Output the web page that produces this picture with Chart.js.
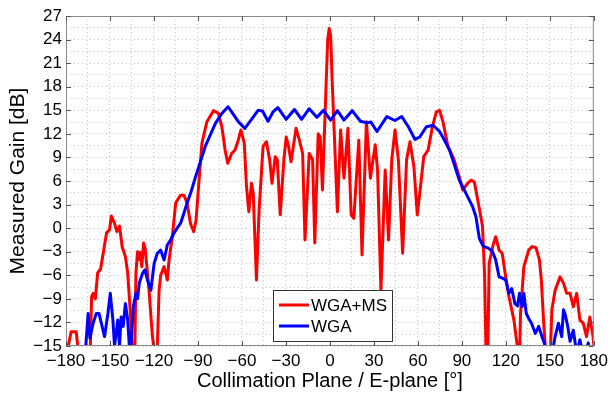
<!DOCTYPE html>
<html>
<head>
<meta charset="utf-8">
<script src="https://cdn.jsdelivr.net/npm/chart.js@4.4.0/dist/chart.umd.min.js"></script>
<style>
  html, body { margin: 0; padding: 0; background: #fff; }
  #wrap { width: 613px; height: 395px; }
</style>
</head>
<body>
<div id="wrap"><canvas id="gainChart" width="613" height="395"></canvas></div>
<script>
// angles in degrees, gain in dB (values below -15 run off the bottom of the plot)
const seriesNames = ['WGA+MS', 'WGA'];
const seriesColors = ['#ff0000', '#0000ff'];

const msAngle = [
  -180, -178.5, -176.5, -173, -172, -171, -164, -163, -162.5, -161.5,
  -160, -158.4, -156.4, -153.7, -152.3, -150.3, -149.1, -146.9, -145.3, -143.5,
  -141.7, -139.5, -137.9, -136.1, -135, -134, -133, -132.3, -131.2, -130.3,
  -129.4, -128.3, -127.1, -126, -124.4, -123.2, -121.9, -121, -120.3, -119.5,
  -118.5, -117.7, -116.5, -115.4, -113.1, -110.9, -109.7, -107.5, -105.2, -101.9,
  -99.6, -97.4, -95.1, -92.9, -91.3, -89.5, -87.3, -83.9, -79.4, -76,
  -73.7, -71.5, -69.7, -67, -64.7, -62.5, -60.7, -58.4, -56.9, -55.3,
  -53.5, -52.3, -50.1, -48.3, -45.6, -43.3, -41.1, -39.5, -37.3, -35.9,
  -33.9, -31.4, -29.8, -28.2, -26.5, -23.1, -20.8, -18.6, -17, -14.1,
  -11.8, -10.3, -8, -6.6, -5.1, -2.8, -1.5, -0.5, 0.5, 1.5,
  2.8, 5.1, 7.3, 9.6, 12.3, 14.5, 16.3, 19.7, 21.9, 24.9,
  27.6, 30.9, 32.5, 34.8, 37.7, 40, 42.2, 44.4, 46.7, 49.6,
  52.3, 54.6, 57.3, 59.6, 61.8, 64, 67, 69.9, 72.6, 74.8,
  77.1, 80.5, 84.5, 88.3, 90.6, 93.5, 96.2, 98.5, 101.9, 104.1,
  105.5, 106.4, 107.2, 107.8, 108.6, 111.3, 113.1, 115.4, 117.5, 119.9,
  122.1, 125.5, 127.8, 129, 130, 132.3, 135.6, 137.9, 140.6, 142.9,
  144.2, 145.7, 146.9, 147.8, 150, 150.7, 151.4, 153.6, 157, 159.3,
  161.5, 163.8, 166, 168.3, 170.5, 172.8, 175, 177.3, 179.5, 180
];
const msGain = [
  -15.5, -15, -13.2, -13.2, -15, -20, -20, -12, -8.7, -8.3,
  -9, -5.7, -5.2, -2.15, -0.6, -0.2, 1.55, 0.6, -0.45, 0.27,
  -2.36, -3.6, -5.75, -10.8, -15, -20, -15, -5.7, -3.0, -4.0,
  -3.1, -4.9, -1.9, -2.6, -5.75, -8.3, -11.7, -13.8, -15, -20,
  -20, -15, -7.9, -6.0, -4.9, -6.6, -4.05, -1.1, 3.2, 4.2,
  4.2, 3.2, 0.6, -0.45, 1.0, 5.5, 10.8, 13.55, 14.95, 14.6,
  12.9, 9.95, 8.25, 9.5, 9.95, 11.2, 12.5, 10.8, 5.3, 2.1,
  5.7, 4.4, -6.6, 2.3, 10.4, 11.0, 8.7, 5.7, 9.1, 8.7,
  1.7, 8.7, 11.6, 10.4, 8.45, 12.7, 11.2, 9.5, -1.5, 9.5,
  8.7, -1.9, 12.0, 11.6, 4.85, 17.2, 24, 25.4, 24.5, 19,
  12.9, 2.1, 12.5, 6.35, 12.7, 1.7, 1.25, 11.2, -3.4, 13.55,
  6.35, 10.6, 7.4, -7.9, 7.4, -1.5, 8.7, 12.5, 8.7, -3.2,
  8.7, 11.0, 7.8, 1.7, 5.3, 9.1, 9.95, 12.9, 14.8, 15.0,
  13.55, 10.4, 8.8, 6.5, 4.85, 5.6, 6.1, 5.9, 2.5, 0.2,
  -6, -15, -20, -15, -4.5, -2.15, -1.1, -2.8, -3.2, -6.2,
  -8.7, -11.7, -15, -20, -10.85, -4.9, -2.8, -2.35, -2.5, -4.05,
  -6.6, -11.7, -15, -20, -20, -14, -10.4, -7.9, -6.2, -7.0,
  -8.3, -8.3, -10.0, -8.3, -11.7, -12.1, -13.8, -11.3, -13.8, -15
];

const wgaAngle = [
  -168, -166.5, -164.9, -163.7, -161.5, -159.3, -157.5, -155.9, -153.7, -151.4,
  -149.8, -148, -146.9, -144.7, -143.5, -142.4, -141, -139.5, -137.9, -136.8,
  -135.7, -134.1, -132.3, -131.2, -130, -127.8, -126.2, -124.4, -122.1, -119.9,
  -117.7, -115.4, -113.1, -110.9, -108.6, -106.4, -104.2, -101.9, -99.6, -97.4,
  -95.1, -91.7, -85, -78.2, -73.7, -69.5, -67, -62.5, -58, -54.6,
  -49, -46, -42.2, -38.8, -35.5, -29.8, -24.2, -19.3, -14.1, -8.9,
  -4.4, 0.5, 5.1, 9.6, 15.2, 20.8, 25.3, 28, 32.1, 38.8,
  44.4, 49, 53.5, 58, 61.3, 65.8, 70.4, 74.8, 77.5, 81.6,
  85, 88.3, 92.9, 97.4, 99.6, 101.9, 104.5, 108.6, 110.9, 113,
  115.4, 118, 119.9, 122.1, 124, 126.2, 128, 129.3, 131.1, 132.3,
  133.9, 135.6, 137.5, 140.1, 142.4, 144.6, 146.9, 148, 151.5, 152.5,
  153.6, 155.9, 158.1, 159.3, 160.5, 162.2, 163.8, 166, 167.6, 169,
  170.5, 172, 174, 176.2, 177.5, 180
];
const wgaGain = [
  -20, -15, -10.85, -14, -12.1, -10.85, -10.85, -12.1, -13.8, -10.85,
  -8.3, -11.7, -15, -11.7, -15, -11.3, -12.5, -9.6, -11.7, -15,
  -15, -10.0, -8.3, -9.0, -7.0, -5.75, -5.3, -6.6, -7.9, -4.5,
  -3.2, -2.8, -4.05, -2.15, -1.5, -0.65, 0, 0.6, 1.9, 3.2,
  4.4, 6.5, 10.4, 13.3, 14.6, 15.45, 14.8, 13.55, 12.7, 13.55,
  15.0, 14.9, 13.6, 14.8, 15.35, 13.85, 15.1, 13.85, 15.2, 14.1,
  15.0, 13.75, 14.95, 13.75, 14.95, 13.6, 13.4, 13.5, 12.3, 14.2,
  13.7, 14.2, 12.9, 11.3, 11.6, 12.9, 13.1, 12.3, 11.4, 9.95,
  8.0, 6.1, 4.4, 2.7, 1.45, -1.3, -2.3, -2.6, -3.0, -4.0,
  -6.2, -6.4, -6.6, -8.3, -7.7, -9.6, -9.9, -8.3, -10.0, -8.3,
  -10.85, -11.5, -12.1, -13.4, -12.5, -13.8, -15, -20, -20, -15,
  -13.8, -12.1, -13.8, -10.4, -11, -12.5, -14.4, -13.0, -15, -15.5,
  -14.2, -15.5, -16, -14.6, -16, -16
];

const xTickLabels = [-180, -150, -120, -90, -60, -30, 0, 30, 60, 90, 120, 150, 180];
const yTickLabels = [-15, -12, -9, -6, -3, 0, 3, 6, 9, 12, 15, 18, 21, 24, 27];

function fmt(v) {
    return v < 0 ? '\u2212' + Math.abs(v) : String(v);
}

function toPoints(xs, ys) {
    return xs.map((a, i) => ({ x: a, y: ys[i] }));
}

const fontFamily = '"Liberation Sans", Arial, Helvetica, sans-serif';

// white background, axes box and matlab-style inward tick marks
const plotFrame = {
    id: 'plotFrame',
    beforeDraw(chart) {
        const ctx = chart.ctx;
        ctx.save();
        ctx.fillStyle = '#ffffff';
        ctx.fillRect(0, 0, chart.width, chart.height);
        ctx.restore();
    },
    afterDatasetsDraw(chart) {
        const { ctx, chartArea: a, scales } = chart;
        ctx.save();
        ctx.strokeStyle = '#8a8a8a';
        ctx.lineWidth = 1;
        ctx.strokeRect(a.left + 0.5, a.top + 0.5, a.right - a.left - 1, a.bottom - a.top - 1);

        ctx.strokeStyle = '#555555';
        ctx.beginPath();
        xTickLabels.forEach(v => {
            const px = Math.round(scales.x.getPixelForValue(v)) + 0.5;
            ctx.moveTo(px, a.top);
            ctx.lineTo(px, a.top + 5);
            ctx.moveTo(px, a.bottom);
            ctx.lineTo(px, a.bottom - 5);
        });
        yTickLabels.forEach(v => {
            const py = Math.round(scales.y.getPixelForValue(v)) + 0.5;
            ctx.moveTo(a.left, py);
            ctx.lineTo(a.left + 5, py);
            ctx.moveTo(a.right, py);
            ctx.lineTo(a.right - 5, py);
        });
        ctx.stroke();
        ctx.restore();
    }
};

// legend box inside the plot, lower middle
const boxLegend = {
    id: 'boxLegend',
    afterDraw(chart) {
        const { ctx, chartArea: a } = chart;
        const left = a.left + 207;
        const top = a.top + 274;
        const w = 119, h = 51;
        ctx.save();
        ctx.fillStyle = '#ffffff';
        ctx.fillRect(left, top, w, h);
        ctx.strokeStyle = '#333333';
        ctx.lineWidth = 1;
        ctx.strokeRect(left + 0.5, top + 0.5, w, h);
        ctx.font = '17px ' + fontFamily;
        ctx.textBaseline = 'middle';
        seriesNames.forEach((name, i) => {
            const yy = top + 15 + i * 21;
            ctx.strokeStyle = seriesColors[i];
            ctx.lineWidth = 3;
            ctx.beginPath();
            ctx.moveTo(left + 6, yy);
            ctx.lineTo(left + 36, yy);
            ctx.stroke();
            ctx.fillStyle = '#000000';
            ctx.fillText(name, left + 38, yy + 1);
        });
        ctx.restore();
    }
};

const ctx = document.getElementById('gainChart').getContext('2d');

new Chart(ctx, {
    type: 'line',
    data: {
        datasets: [
            {
                label: seriesNames[0],
                data: toPoints(msAngle, msGain),
                borderColor: seriesColors[0],
                borderWidth: 3,
                borderJoinStyle: 'round',
                borderCapStyle: 'round',
                pointRadius: 0,
                tension: 0,
                fill: false,
                order: 1
            },
            {
                label: seriesNames[1],
                data: toPoints(wgaAngle, wgaGain),
                borderColor: seriesColors[1],
                borderWidth: 3,
                borderJoinStyle: 'round',
                borderCapStyle: 'round',
                pointRadius: 0,
                tension: 0,
                fill: false,
                order: 0
            }
        ]
    },
    options: {
        responsive: false,
        animation: false,
        devicePixelRatio: 1,
        layout: { padding: { top: 16, right: 14, left: 0, bottom: 0 } },
        plugins: {
            legend: { display: false },
            tooltip: { enabled: false }
        },
        scales: {
            x: {
                type: 'linear',
                min: -180,
                max: 180,
                afterFit(scale) { scale.height = 49; },
                grid: { color: '#c4c4c4', lineWidth: 1, drawTicks: false },
                border: { display: false, dash: [1, 3] },
                ticks: {
                    stepSize: 15,
                    autoSkip: false,
                    maxRotation: 0,
                    padding: 5,
                    color: '#000000',
                    font: { family: fontFamily, size: 17 },
                    callback: v => xTickLabels.includes(v) ? fmt(v) : ''
                },
                title: {
                    display: true,
                    text: 'Collimation Plane / E-plane [°]',
                    color: '#000000',
                    font: { family: fontFamily, size: 20 },
                    padding: { top: 0, bottom: 2 }
                }
            },
            y: {
                min: -15,
                max: 27,
                afterFit(scale) { scale.width = 66; },
                grid: { color: '#c4c4c4', lineWidth: 1, drawTicks: false },
                border: { display: false, dash: [1, 3] },
                ticks: {
                    stepSize: 1.5,
                    autoSkip: false,
                    padding: 4,
                    color: '#000000',
                    font: { family: fontFamily, size: 17 },
                    callback: v => yTickLabels.includes(v) ? fmt(v) : ''
                },
                title: {
                    display: true,
                    text: 'Measured Gain [dB]',
                    color: '#000000',
                    font: { family: fontFamily, size: 21 },
                    padding: { top: 6, bottom: 0 }
                }
            }
        }
    },
    plugins: [plotFrame, boxLegend]
});
</script>
</body>
</html>
